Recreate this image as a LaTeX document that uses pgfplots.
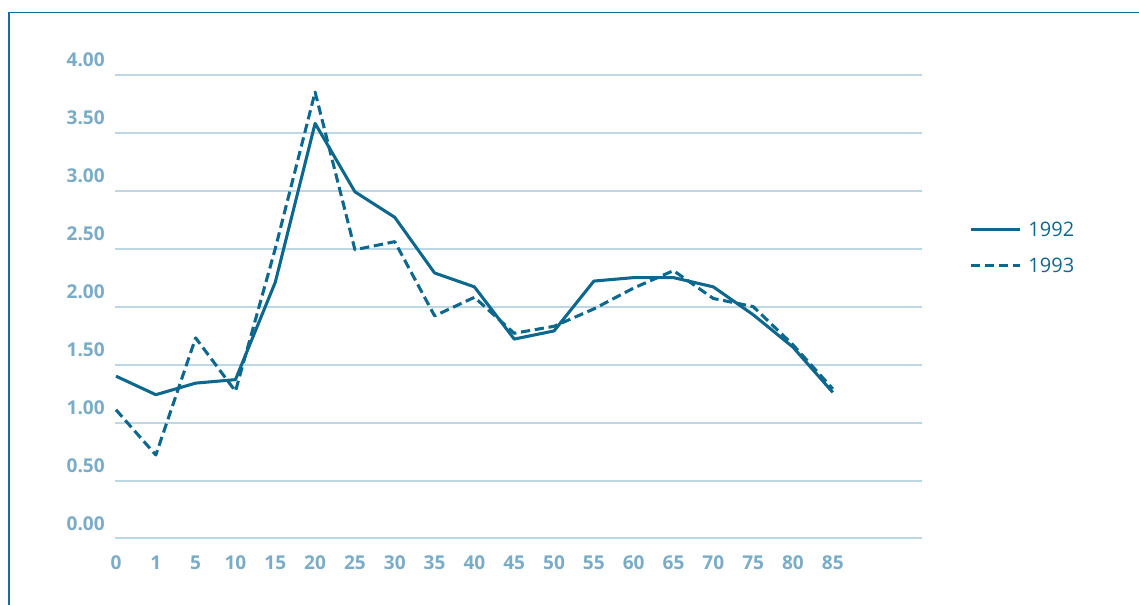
\documentclass[border=0pt]{standalone}
\usepackage{pgfplots}
\pgfplotsset{compat=1.18}
\usepackage{fontspec}
\setmainfont{Open Sans}
\definecolor{linec}{RGB}{14,104,141}
\definecolor{gridc}{RGB}{190,215,229}
\definecolor{tickc}{RGB}{122,172,200}
\definecolor{framec}{RGB}{22,108,155}
\begin{document}
\begin{tikzpicture}
\useasboundingbox (0,0) rectangle (854.25pt,453.75pt);
\draw[framec, line width=1.1pt] (6.75pt,0pt) -- (6.75pt,444.4pt) -- (860pt,444.4pt);
\begin{axis}[
  at={(86.25pt,49.875pt)}, anchor=south west,
  scale only axis, width=605.25pt, height=347.85pt,
  xmin=-0.025, xmax=20.24, ymin=0, ymax=4,
  axis line style={draw=none},
  major tick length=0pt,
  xtick={0,...,18},
  xticklabels={0,1,5,10,15,20,25,30,35,40,45,50,55,60,65,70,75,80,85},
  ytick={0,0.5,...,4},
  ymajorgrids,
  grid style={gridc, line width=1.5pt},
  yticklabel style={/pgf/number format/fixed, /pgf/number format/zerofill, /pgf/number format/precision=2,
    /pgf/number format/assume math mode=true,
    anchor=east, inner sep=0pt, xshift=-7.5pt, yshift=11pt, font=\fontsize{14.3}{16}\selectfont\bfseries, text=tickc},
  xticklabel style={anchor=center, inner sep=0pt, yshift=-18.4pt, font=\fontsize{14.3}{16}\selectfont\bfseries, text=tickc},
  legend style={at={(1.058,0.6285)}, anchor=west, draw=none, fill=none, inner sep=0pt,
    font=\fontsize{15}{17}\selectfont, text=linec,
    nodes={inner sep=0pt, text height=10.7pt, text depth=0pt},
    row sep=16.3pt, column sep=5.5pt},
  legend cell align=left,
  legend image code/.code={\draw[#1] (0pt,-0.7pt) -- (36.75pt,-0.7pt);},
  clip=false,
]
\addplot[linec, line width=2.3pt, line join=round] coordinates {
(0,1.40) (1,1.24) (2,1.34) (3,1.37) (4,2.21) (5,3.58) (6,2.99) (7,2.77) (8,2.29) (9,2.17)
(10,1.72) (11,1.79) (12,2.22) (13,2.25) (14,2.25) (15,2.17) (16,1.93) (17,1.65) (18,1.26)};
\addlegendentry{1992}
\addplot[linec, line width=2.3pt, dash pattern=on 7pt off 3.5pt, line join=round] coordinates {
(0,1.11) (1,0.72) (2,1.73) (3,1.27) (4,2.50) (5,3.85) (6,2.49) (7,2.56) (8,1.92) (9,2.08)
(10,1.77) (11,1.83) (12,1.98) (13,2.16) (14,2.31) (15,2.07) (16,2.00) (17,1.67) (18,1.29)};
\addlegendentry{1993}
\end{axis}
\end{tikzpicture}
\end{document}
